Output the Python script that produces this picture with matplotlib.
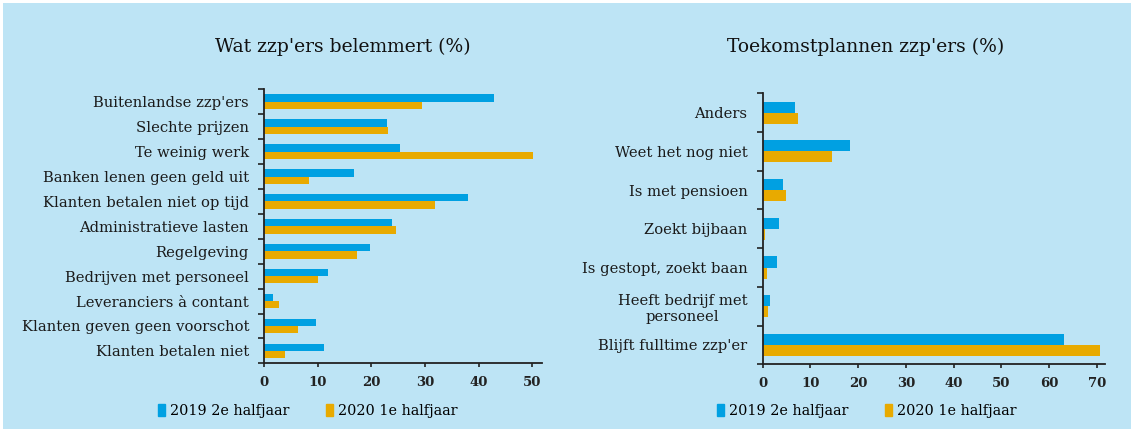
import numpy as np
import matplotlib
matplotlib.use("Agg")
import matplotlib.pyplot as plt
from matplotlib.patches import Rectangle

# data
left_cats = ["Buitenlandse zzp'ers", "Slechte prijzen", "Te weinig werk",
             "Banken lenen geen geld uit", "Klanten betalen niet op tijd",
             "Administratieve lasten", "Regelgeving", "Bedrijven met personeel",
             "Leveranciers à contant", "Klanten geven geen voorschot",
             "Klanten betalen niet"]
left_2019 = [42.9, 22.9, 25.3, 16.7, 38.1, 23.9, 19.7, 11.9, 1.7, 9.7, 11.1]
left_2020 = [29.5, 23.1, 50.1, 8.3, 31.8, 24.6, 17.3, 10.0, 2.7, 6.3, 3.9]

right_cats = ["Anders", "Weet het nog niet", "Is met pensioen", "Zoekt bijbaan",
              "Is gestopt, zoekt baan", "Heeft bedrijf met\npersoneel",
              "Blijft fulltime zzp'er"]
right_2019 = [6.7, 18.3, 4.2, 3.4, 3.0, 1.5, 63.1]
right_2020 = [7.4, 14.6, 4.9, 0.5, 0.8, 1.1, 70.6]

series_names = ["2019 2e halfjaar", "2020 1e halfjaar"]
titles = ["Wat zzp'ers belemmert (%)", "Toekomstplannen zzp'ers (%)"]

BG = "#BDE4F5"
BLUE = "#00A0E2"
ORANGE = "#E8AA00"
SERIF = "DejaVu Serif"

fig = plt.figure(figsize=(11.31, 4.29), dpi=100)
fig.patch.set_facecolor("white")
fig.add_artist(Rectangle((3 / 1131, -0.01), 1.01, 1.01 - 3 / 429, transform=fig.transFigure,
                         facecolor=BG, edgecolor="none", zorder=-10))


def draw(ax, cats, a, b, bh, xmax, ticks, title, tx, legpos):
    n = len(cats)
    y = np.arange(n)
    ax.barh(y - bh / 2, a, height=bh, color=BLUE, edgecolor="none")
    ax.barh(y + bh / 2, b, height=bh, color=ORANGE, edgecolor="none")
    ax.set_ylim(n - 0.5, -0.5)
    ax.set_xlim(0, xmax)
    ax.set_facecolor("none")
    for s in ["top", "right"]:
        ax.spines[s].set_visible(False)
    for s in ["left", "bottom"]:
        ax.spines[s].set_linewidth(1.3)
        ax.spines[s].set_color("#222222")
    ax.set_yticks(np.arange(n + 1) - 0.5)
    ax.set_yticklabels([])
    ax.set_yticks(y, minor=True)
    ax.set_yticklabels(cats, minor=True, fontfamily=SERIF, fontsize=10.6,
                       color="#1a1a1a", multialignment="center")
    ax.tick_params(axis="y", which="major", length=4, width=1.2, color="#222222")
    ax.tick_params(axis="y", which="minor", length=0, pad=11)
    ax.set_xticks(ticks)
    ax.tick_params(axis="x", length=3, width=1.2, color="#222222",
                   labelsize=9.5, pad=6)
    for lab in ax.get_xticklabels():
        lab.set_fontfamily(SERIF)
        lab.set_fontweight("bold")
        lab.set_color("#222222")
    fig.text(tx, 1 - 47 / 429, title, ha="center", va="center",
             fontfamily=SERIF, fontsize=13.5, color="#111111")
    h = [Rectangle((0, 0), 1, 1, color=BLUE), Rectangle((0, 0), 1, 1, color=ORANGE)]
    fig.legend(h, series_names, loc="center left", bbox_to_anchor=legpos,
               ncol=2, frameon=False, handlelength=0.45, handleheight=0.8,
               handletextpad=0.35, columnspacing=2.6,
               prop={"family": SERIF, "size": 10.4})


ax1 = fig.add_axes([0.2337, 0.1531, 0.2453, 0.6387])
draw(ax1, left_cats, left_2019, left_2020, 0.295, 51.8, [0, 10, 20, 30, 40, 50],
     titles[0], 343 / 1131, (145 / 1131, 1 - 411 / 429))

ax2 = fig.add_axes([0.6744, 0.1508, 0.3027, 0.6317])
draw(ax2, right_cats, right_2019, right_2020, 0.285, 71.7,
     [0, 10, 20, 30, 40, 50, 60, 70],
     titles[1], 866 / 1131, (704 / 1131, 1 - 411 / 429))

fig.savefig("out.png", dpi=100, facecolor=fig.get_facecolor())
